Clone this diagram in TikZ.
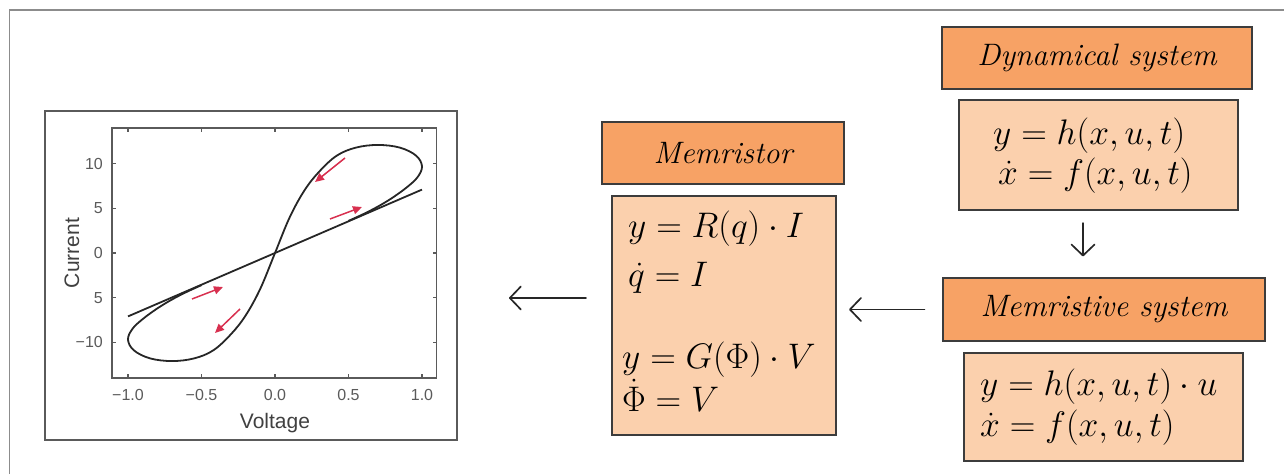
\RequirePackage{fix-cm}
\documentclass[tikz,border=0pt]{standalone}
\usepackage{amsmath}
\usepackage{fontspec}
\newfontfamily\plotfont{Liberation Sans}
\usetikzlibrary{arrows.meta}
\definecolor{hdrfill}{HTML}{F7A265}
\definecolor{bodyfill}{HTML}{FBD0AD}
\definecolor{boxline}{HTML}{3C3C3C}
\definecolor{plotgray}{HTML}{5A5A5A}
\definecolor{redarrow}{HTML}{D8304F}
\tikzset{
  hdr/.style={draw=boxline, fill=hdrfill, line width=1.2pt, inner sep=0pt,
    font=\fontsize{31}{36}\selectfont\itshape},
  bodybox/.style={draw=boxline, fill=bodyfill, line width=2.2pt, inner sep=0pt},
  eq/.style={inner sep=0pt, font=\fontsize{35.5}{40}\selectfont},
  conn/.style={draw=black!85, line width=1.7pt, line cap=round,
    -{Straight Barb[length=11pt,width=23pt,line width=1.7pt,round]}},
  ticklab/.style={inner sep=0pt, text=plotgray, font=\plotfont\fontsize{16}{18}\selectfont},
  axlab/.style={inner sep=0pt, text=black!75, font=\plotfont\fontsize{21}{24}\selectfont},
  redarr/.style={draw=redarrow, line width=1.5pt, -{Triangle[length=9pt,width=8pt]}},
}
\begin{document}
\begin{tikzpicture}[x=1pt,y=-1pt]
\useasboundingbox (0,0) rectangle (1284,474);
% outer frame
\draw[black!45, line width=1.2pt] (9.5,474) -- (9.5,10) -- (1284,10);

% plot frame
\node[draw=plotgray, line width=2pt, minimum width=412pt, minimum height=329pt, inner sep=0pt] (plotframe) at (251,275.5) {};
\begin{scope}[shift={(275,253)}, x=147pt, y=8.93pt]
  \draw[plotgray, line width=1.4pt] (-1.11,-14) rectangle (1.10,14);
  \foreach \v in {-1,-0.5,0,0.5,1} {
    \draw[plotgray, line width=1.2pt] (\v,-14) -- ++(0,4pt);
    \draw[plotgray, line width=1.2pt] (\v,14) -- ++(0,-4pt);
  }
  \foreach \i in {-10,-5,0,5,10} {
    \draw[plotgray, line width=1.2pt] (-1.11,\i) -- ++(4pt,0);
    \draw[plotgray, line width=1.2pt] (1.10,\i) -- ++(-4pt,0);
  }
  \node[ticklab, anchor=east] (yt1) at (-1.17,10) {10};
  \node[ticklab, anchor=east] (yt2) at (-1.17,5) {5};
  \node[ticklab, anchor=east] (yt3) at (-1.17,0) {0};
  \node[ticklab, anchor=east] (yt4) at (-1.17,-5) {5};
  \node[ticklab, anchor=east] (yt5) at (-1.17,-10) {−10};
  \node[ticklab] (xt1) at (-1,-15.9) {−1.0};
  \node[ticklab] (xt2) at (-0.5,-15.9) {−0.5};
  \node[ticklab] (xt3) at (0,-15.9) {0.0};
  \node[ticklab] (xt4) at (0.5,-15.9) {0.5};
  \node[ticklab] (xt5) at (1,-15.9) {1.0};
  % straight branch
  \draw[black!85, line width=1.8pt] (-1,-7.1) -- (1,7.1);
  % loop
  \draw[black!85, line width=1.8pt] plot[smooth, tension=0.6] coordinates {
    (-0.5,-3.6) (-0.6,-4.35) (-0.7,-5.2) (-0.8,-6.2) (-0.9,-7.4) (-0.97,-8.5)
    (-1.0,-9.7) (-0.96,-10.9) (-0.85,-11.8) (-0.7,-12.1) (-0.55,-11.8)
    (-0.42,-10.9) (-0.3,-9.1) (-0.2,-7) (-0.1,-4) (0,0) (0.1,4) (0.2,7)
    (0.3,9.1) (0.42,10.9) (0.55,11.8) (0.7,12.1) (0.85,11.8) (0.96,10.9)
    (1.0,9.7) (0.97,8.5) (0.9,7.4) (0.8,6.2) (0.7,5.2) (0.6,4.35) (0.5,3.6)};
\end{scope}
\node[axlab] (xlab) at (275,423) {Voltage};
\node[axlab, rotate=90] (ylab) at (72,253) {Current};
% red arrows
\draw[redarr] (345,158) -- (315,182);
\draw[redarr] (330,219) -- (362,207);
\draw[redarr] (192,299) -- (223,287);
\draw[redarr] (240,309) -- (215,333);

% Memristor
\node[hdr, minimum width=242pt, minimum height=62pt] (mhdr) at (723,153) {Memristor};
\node[bodybox, minimum width=224pt, minimum height=239pt] (mbody) at (724,315.5) {};
\node[eq, anchor=base west] (m1) at (628,237) {$y=R(q)\cdot I$};
\node[eq, anchor=base west] (m2) at (628,286) {$\dot q=I$};
\node[eq, anchor=base west] (m3) at (622,368) {$y=G(\Phi)\cdot V$};
\node[eq, anchor=base west] (m4) at (622,411) {$\dot\Phi=V$};

% Dynamical system
\node[hdr, minimum width=310pt, minimum height=62pt] (dhdr) at (1097,58) {Dynamical system};
\node[bodybox, minimum width=279pt, minimum height=110pt] (dbody) at (1098.5,155) {};
\node[eq, anchor=base west] (d1) at (993,144) {$y=h(x,u,t)$};
\node[eq, anchor=base west] (d2) at (998,184) {$\dot x=f(x,u,t)$};

% Memristive system
\node[hdr, minimum width=322pt, minimum height=63pt] (shdr) at (1104,309.5) {Memristive system};
\node[bodybox, minimum width=279pt, minimum height=108pt] (sbody) at (1103.5,407) {};
\node[eq, anchor=base west] (s1) at (980,395) {$y=h(x,u,t)\cdot u$};
\node[eq, anchor=base west] (s2) at (980,436) {$\dot x=f(x,u,t)$};

% connectors
\coordinate (dsrc) at (1083,222);
\coordinate (plotarrow) at (0,298);
\draw[conn, shorten <=12pt, shorten >=21pt] (dbody.south -| dsrc) -- (shdr.north -| dsrc);
\draw[conn, shorten <=18pt, shorten >=12pt] (shdr.west) -- (mbody.east |- shdr.west);
\draw[conn, shorten <=25pt, shorten >=51pt] (mbody.west |- plotarrow) -- (plotframe.east |- plotarrow);
\end{tikzpicture}
\end{document}
